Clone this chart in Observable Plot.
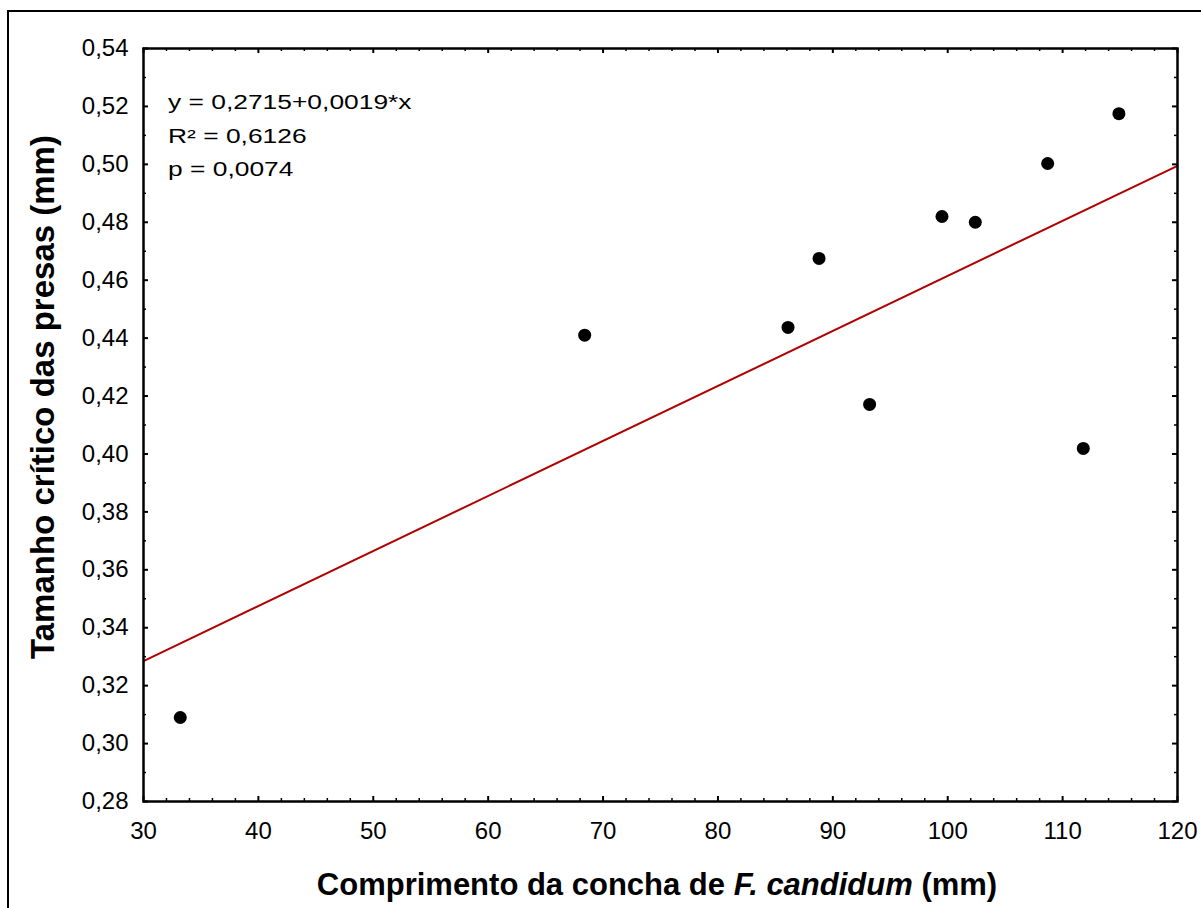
<!DOCTYPE html>
<html>
<head>
<meta charset="utf-8">
<script src="https://cdn.jsdelivr.net/npm/d3@7"></script>
<script src="https://cdn.jsdelivr.net/npm/@observablehq/plot@0.6"></script>
<style>
  html, body { margin: 0; padding: 0; background: #fff; overflow: hidden; }
  #wrap { position: relative; width: 1201px; height: 908px; }
  #frame { position: absolute; left: 7px; top: 10px; width: 1300px; height: 1000px; border: 2px solid #000; box-sizing: border-box; }
  #chart { position: absolute; left: 0; top: 0; }
</style>
</head>
<body>
<div id="wrap"><div id="frame"></div><div id="chart"></div></div>
<script>
// Data
const shellLength = [33.2, 68.4, 86.1, 88.8, 93.2, 99.5, 102.4, 108.7, 111.8, 114.9];
const criticalSize = [0.309, 0.441, 0.4437, 0.4675, 0.4171, 0.482, 0.480, 0.5003, 0.4019, 0.5175];
const intercept = 0.2715;
const slope = 0.0019;
const xDomain = [30, 120];
const yDomain = [0.28, 0.54];
const xMajorTicks = [30, 40, 50, 60, 70, 80, 90, 100, 110, 120];
const xMinorTicks = [32, 34, 36, 38, 42, 44, 46, 48, 52, 54, 56, 58, 62, 64, 66, 68, 72, 74, 76, 78, 82, 84, 86, 88, 92, 94, 96, 98, 102, 104, 106, 108, 112, 114, 116, 118];
const yMajorTicks = [0.28, 0.30, 0.32, 0.34, 0.36, 0.38, 0.40, 0.42, 0.44, 0.46, 0.48, 0.50, 0.52, 0.54];
const yMinorTicks = [0.29, 0.31, 0.33, 0.35, 0.37, 0.39, 0.41, 0.43, 0.45, 0.47, 0.49, 0.51, 0.53];
const statsLines = ["y = 0,2715+0,0019*x", "R² = 0,6126", "p = 0,0074"];
const yLabel = "Tamanho crítico das presas (mm)";

const points = shellLength.map((x, i) => ({x, y: criticalSize[i]}));
const fitLine = xDomain.map(x => ({x, y: intercept + slope * x}));
const fmtY = d => d3.format(".2f")(d).replace(".", ",");
const font = "'Liberation Sans', Arial, sans-serif";

const W = 1201, H = 908, mL = 143, mR = 24, mT = 48, mB = 107;
const innerW = W - mL - mR, innerH = H - mT - mB;
const majorLen = 5, minorLen = 3;

// inward tick marks drawn as short rules against each side of the frame
const ticksX = (values, len, sw) => [
  Plot.ruleX(values, {x: d => d, insetTop: innerH - len, stroke: "#000", strokeWidth: sw}),
  Plot.ruleX(values, {x: d => d, insetBottom: innerH - len, stroke: "#000", strokeWidth: sw})
];
const ticksY = (values, len, sw) => [
  Plot.ruleY(values, {y: d => d, insetRight: innerW - len, stroke: "#000", strokeWidth: sw}),
  Plot.ruleY(values, {y: d => d, insetLeft: innerW - len, stroke: "#000", strokeWidth: sw})
];

const chart = Plot.plot({
  width: W,
  height: H,
  marginLeft: mL,
  marginRight: mR,
  marginTop: mT,
  marginBottom: mB,
  style: {fontFamily: font, fontSize: "24px", color: "#000", background: "transparent"},
  x: {domain: xDomain},
  y: {domain: yDomain},
  marks: [
    ...ticksX(xMinorTicks, minorLen, 1.5),
    ...ticksY(yMinorTicks, minorLen, 1.5),
    ...ticksX(xMajorTicks, majorLen, 2),
    ...ticksY(yMajorTicks, majorLen, 2),
    Plot.axisX(xMajorTicks, {anchor: "bottom", tickSize: 0, tickPadding: 20, tickFormat: d => String(d), label: null, fontSize: 24}),
    Plot.axisY(yMajorTicks, {anchor: "left", tickSize: 0, tickPadding: 15, tickFormat: fmtY, label: null, fontSize: 24}),
    Plot.line(fitLine, {x: "x", y: "y", stroke: "#b00000", strokeWidth: 2}),
    Plot.dot(points, {x: "x", y: "y", r: 6.5, fill: "#000", stroke: "none"}),
    Plot.frame({stroke: "#000", strokeWidth: 2.5})
  ]
});

const svg = d3.select(chart);

// regression statistics (wide text as in the reference)
statsLines.forEach((line, i) => {
  svg.append("text")
    .attr("transform", `translate(168,${109 + i * 33.5}) scale(1.32,1)`)
    .attr("text-anchor", "start")
    .attr("font-family", font)
    .attr("font-size", 20)
    .attr("fill", "#000")
    .text(line);
});

// y-axis title
svg.append("text")
  .attr("transform", "translate(54,397) rotate(-90)")
  .attr("text-anchor", "middle")
  .attr("font-family", font)
  .attr("font-weight", "bold")
  .attr("font-size", 33)
  .attr("fill", "#000")
  .text(yLabel);

// x-axis title with italic species name
const xt = svg.append("text")
  .attr("x", 657).attr("y", 895)
  .attr("text-anchor", "middle")
  .attr("font-family", font)
  .attr("font-weight", "bold")
  .attr("font-size", 31)
  .attr("fill", "#000");
xt.append("tspan").text("Comprimento da concha de ");
xt.append("tspan").attr("font-style", "italic").text("F. candidum");
xt.append("tspan").text(" (mm)");

document.getElementById("chart").appendChild(chart);
</script>
</body>
</html>
